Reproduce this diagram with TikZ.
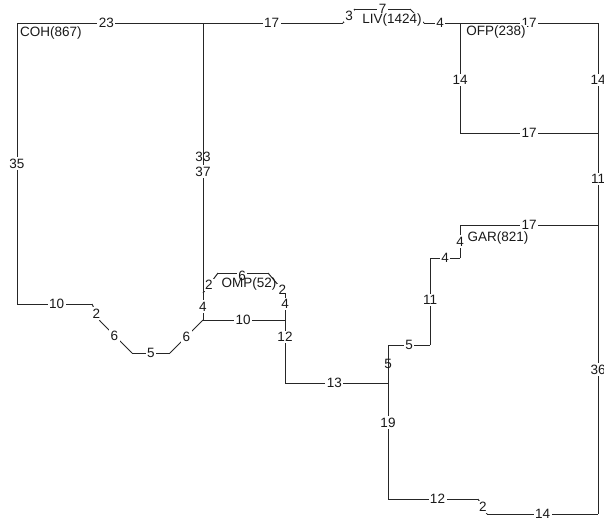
\documentclass[tikz,border=0pt]{standalone}
\usepackage{fontspec}
\setmainfont{Liberation Sans}
\usepackage{tikz}

\begin{document}
\begin{tikzpicture}[
        x=1pt,
        y=-1pt,
        font=\fontsize{13.5}{15}\selectfont,
        branch/.style={black!85, line width=1pt},
        len/.style={fill=white, inner sep=1.5pt, text=black!90},
        lenthru/.style={inner sep=1.5pt, text=black!90},
        taxon/.style={fill=white, inner sep=1pt, text=black!90}
    ]
        \useasboundingbox (0,0) rectangle (604,522);

        % junctions of the network
        \coordinate (c1) at (17,23);   \coordinate (c2) at (17,304);
        \coordinate (j1) at (203,23);  \coordinate (l0) at (343,23);
        \coordinate (l1) at (355,9);   \coordinate (l2) at (410,9);
        \coordinate (l3) at (424,23);
        \coordinate (o1) at (460,23);  \coordinate (o2) at (598,23);
        \coordinate (o3) at (598,133); \coordinate (o4) at (460,133);
        \coordinate (g0) at (598,225); \coordinate (g1) at (460,225);
        \coordinate (g2) at (460,258); \coordinate (g3) at (430,258);
        \coordinate (g4) at (430,345); \coordinate (g5) at (388,345);
        \coordinate (j3) at (388,383); \coordinate (j2) at (285,383);
        \coordinate (m0) at (203,320); \coordinate (m1) at (285,320);
        \coordinate (p1) at (203,293); \coordinate (p2) at (218,273);
        \coordinate (p3) at (268,273); \coordinate (p4) at (285,293);
        \coordinate (d1) at (92,304);  \coordinate (d2) at (100,321);
        \coordinate (d3) at (132,353); \coordinate (d4) at (170,353);
        \coordinate (b1) at (388,499); \coordinate (b2) at (478,499);
        \coordinate (b3) at (487,514); \coordinate (b4) at (598,514);

        % branches with their lengths
        \foreach \a/\b/\w/\p in {c1/j1/23/0.48,j1/l0/17/0.49,l0/l1/3/0.5,l1/l2/7/0.5,l3/o1/4/0.45,
                o1/o2/17/0.5,o1/o4/14/0.52,o4/o3/17/0.5,o2/o3/14/0.52,o3/g0/11/0.5,
                g0/g1/17/0.5,g1/g2/4/0.5,g2/g3/4/0.5,g3/g4/11/0.48,g4/g5/5/0.5,
                j3/j2/13/0.52,j2/m1/12/0.73,m0/m1/10/0.49,m0/p1/4/0.5,p1/p2/2/0.4,
                p3/p4/2/0.85,p4/m1/4/0.4,
                c1/c2/35/0.5,c2/d1/10/0.53,d1/d2/2/0.55,d2/d3/6/0.45,d3/d4/5/0.5,d4/m0/6/0.5,
                j3/b1/19/0.34,b1/b2/12/0.55,b2/b3/2/0.55,b3/b4/14/0.5,g0/b4/36/0.5} {
            \draw[branch] (\a) -- node[len, pos=\p] {\w} (\b);
        }
        \draw[branch] (p2) -- node[len, pos=0.48, yshift=-3pt] {6} (p3);
        \draw[branch] (l2) -- (l3);
        \draw[branch] (j1) -- node[lenthru, pos=0.497] {33} node[len, pos=0.55] {37} (p1);
        \draw[branch] (g5) -- node[lenthru, pos=0.5] {5} (j3);

        % taxa
        \node[taxon, anchor=west] (coh) at (19,33) {COH(867)};
        \node[taxon] (liv) at (392,20) {LIV(1424)};
        \node[taxon] (ofp) at (496,32) {OFP(238)};
        \node[taxon] (gar) at (498,238) {GAR(821)};
        \node[inner sep=1pt, text=black!90] (omp) at (249,284) {OMP(52)};
    \end{tikzpicture}
\end{document}
